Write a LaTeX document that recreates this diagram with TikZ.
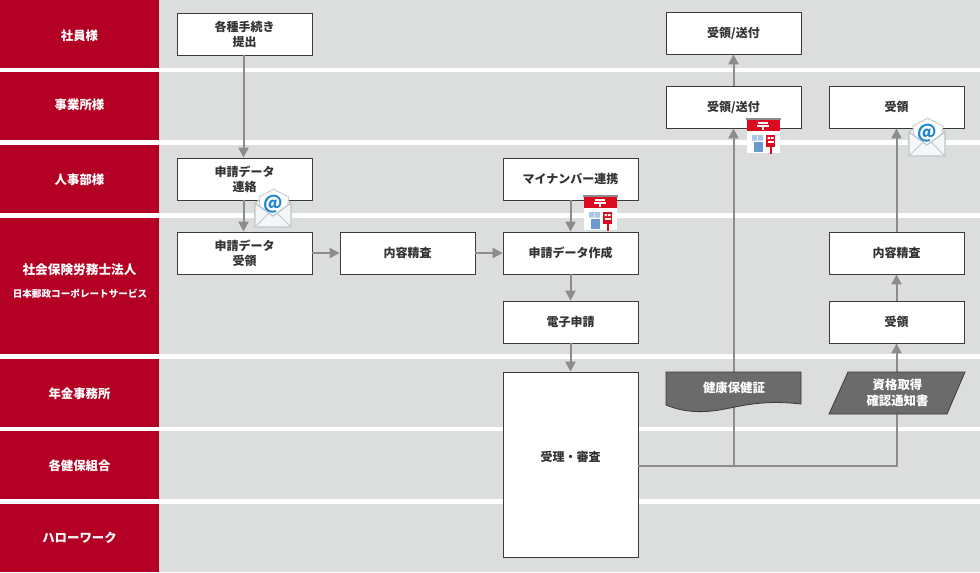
\documentclass[tikz,border=0pt]{standalone}
\usepackage{fontspec}
\setmainfont{Noto Sans CJK JP}
\usetikzlibrary{arrows.meta}
\definecolor{lanered}{HTML}{B40024}
\definecolor{lanegray}{HTML}{DCDDDD}
\definecolor{boxline}{HTML}{3E3A39}
\definecolor{conncol}{HTML}{8C8C8C}
\definecolor{docfill}{HTML}{6B6B6B}
\definecolor{envline}{HTML}{BCC8CE}
\definecolor{envfill}{HTML}{F4F6F7}
\definecolor{atblue}{HTML}{1D86CF}
\definecolor{postred}{HTML}{DC0A1E}
\definecolor{winblue}{HTML}{A9C6E6}
\definecolor{doorblue}{HTML}{6C98D0}
\tikzset{
  lanehead/.style={text=white,font=\fontsize{9.3}{11}\selectfont\bfseries,inner sep=0pt},
  lanelong/.style={text=white,font=\fontsize{9.5}{11}\selectfont\bfseries,inner sep=0pt},
  lanesmall/.style={text=white,font=\fontsize{7.2}{9}\selectfont\bfseries,inner sep=0pt},
  flowbox/.style={draw=boxline,line width=0.6pt,fill=white,minimum width=101.25pt,minimum height=31.5pt,inner sep=0pt,align=center,text=black!80,font=\fontsize{9}{11.25}\selectfont\bfseries},
  plaintext/.style={inner sep=0pt,align=center,text=black!80,font=\fontsize{9}{11.25}\selectfont\bfseries},
  doctext/.style={inner sep=0pt,align=center,text=white,font=\fontsize{9.3}{11.8}\selectfont\bfseries},
  docshape/.style={draw=boxline,line width=0.6pt,fill=docfill},
  conn/.style={draw=conncol,line width=1.5pt,-{Triangle[length=7.5pt,width=7.5pt]}},
}
\newcommand{\mailicon}[2]{%
\begin{scope}[shift={(#1,#2)}]
  \fill[envfill,draw=envline,line width=0.8pt,line join=round] (0,13) -- (18,0) -- (36,13) -- (36,25) -- (0,25) -- cycle;
  \fill[white,draw=envline,line width=0.6pt,line join=round] (4,7) -- (18.5,-0.7) -- (34,7) -- (31,26) -- (6,26) -- cycle;
  \node[inner sep=0pt,text=atblue,font=\fontsize{14}{14}\selectfont\bfseries] at (18,14) {@};
  \fill[envfill,draw=envline,line width=1pt,line join=round] (0,13) -- (18,26) -- (36,13) -- (36,37) -- (0,37) -- cycle;
  \draw[envline,line width=0.6pt] (0,37) -- (14,23) (36,37) -- (22,23);
\end{scope}}
\newcommand{\posticon}[2]{%
\begin{scope}[shift={(#1,#2)}]
  \fill[white] (1,12) rectangle (34,34.5);
  \fill[conncol] (0,0) rectangle (35,2.2);
  \fill[postred] (1,2.2) rectangle (34,13);
  \draw[white,line width=1.1pt] (12,5) -- (22,5) (11,8) -- (23,8) (17,8) -- (17,12);
  \fill[winblue] (6,17) rectangle (11.2,22.5) (11.8,17) rectangle (17,22.5);
  \fill[doorblue] (7.7,24.3) rectangle (17,33.7);
  \fill[postred] (20,17) rectangle (29,28.5);
  \fill[postred] (23.5,28.5) rectangle (26,35.5);
  \fill[white] (21.5,19) rectangle (24,21) (25,19) rectangle (27.5,21);
  \fill[white] (21.5,23) rectangle (27.5,25);
\end{scope}}
\begin{document}
\begin{tikzpicture}[x=0.75pt,y=-0.75pt]
\useasboundingbox (0,0) rectangle (980,572);
\fill[white] (0,0) rectangle (980,572);
% lanes
\foreach \ya/\yb in {0/68,72/140,145/213,218/354,359/427,431/499,504/572}{
  \fill[lanered] (0,\ya) rectangle (159,\yb);
  \fill[lanegray] (159,\ya) rectangle (980,\yb);
}
\node[lanehead] (l1) at (79.5,36) {社員様};
\node[lanehead] (l2) at (79.5,105) {事業所様};
\node[lanehead] (l3) at (79.5,180) {人事部様};
\node[lanelong] (l4) at (79.5,270) {社会保険労務士法人};
\node[lanesmall] (l4b) at (80,294) {日本郵政コーポレートサービス};
\node[lanehead] (l5) at (79.5,394) {年金事務所};
\node[lanehead] (l6) at (79.5,466) {各健保組合};
\node[lanehead] (l7) at (79.5,538) {ハローワーク};
% boxes
\node[flowbox] (a1) at (244.5,34) {各種手続き\\提出};
\node[flowbox] (a2) at (244.5,179) {申請データ\\連絡};
\node[flowbox] (a3) at (244.5,253) {申請データ\\受領};
\node[flowbox] (b1) at (407.5,253) {内容精査};
\node[flowbox] (c1) at (570.5,179) {マイナンバー連携};
\node[flowbox] (c2) at (570.5,253) {申請データ作成};
\node[flowbox] (c3) at (570.5,322) {電子申請};
\node[flowbox,minimum height=138.75pt] (c4) at (570.5,464.5) {};
\node[plaintext] (c4t) at (570.5,457) {受理・審査};
\node[flowbox] (d1) at (733.5,33) {受領/送付};
\node[flowbox] (d2) at (733.5,107) {受領/送付};
\node[flowbox] (e1) at (896.5,107) {受領};
\node[flowbox] (e2) at (896.5,253) {内容精査};
\node[flowbox] (e3) at (896.5,322) {受領};
% connectors
\coordinate (j) at (735,466);
\draw[conn] ([xshift=-0.75pt]a1.south) -- ([xshift=-0.75pt]a2.north);
\draw[conn] ([xshift=-0.75pt]a2.south) -- ([xshift=-0.75pt]a3.north);
\draw[conn] (a3) -- (b1);
\draw[conn] (b1) -- (c2);
\draw[conn] (c1) -- (c2);
\draw[conn] (c2) -- (c3);
\draw[conn] (c3) -- (c4);
\draw[conn] (d2) -- (d1);
\draw[conn] (e2) -- (e1);
\draw[conn] (e3) -- (e2);
\draw[conn] (c4.east |- j) -| (d2.south);
\draw[conn] (d2.south |- j) -| (e3.south);
% document shapes
\draw[docshape] (666,372) -- (801,372) -- (801,404) .. controls (765,400) and (745,405) .. (725,409) .. controls (705,413) and (685,413) .. (666,405) -- cycle;
\node[doctext] (doc1) at (734,388) {健康保健証};
\draw[docshape] (848,372) -- (965,372) -- (947,414) -- (829,414) -- cycle;
\node[doctext] (doc2) at (897.5,392.5) {資格取得\\確認通知書};
% icons
\mailicon{255}{190}
\mailicon{909}{119}
\posticon{583}{195}
\posticon{746}{118}
\end{tikzpicture}
\end{document}
